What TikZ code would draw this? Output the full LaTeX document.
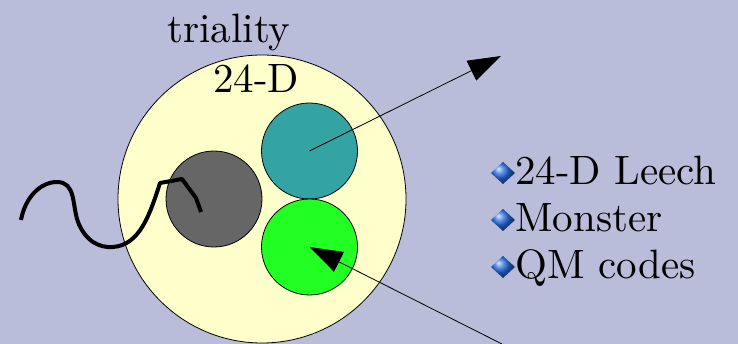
\documentclass[tikz,border=0pt]{standalone}
\usepackage{fontspec}
\setmainfont{lmroman10-regular}[Extension=.otf]
\usetikzlibrary{arrows.meta}
\definecolor{slidebg}{RGB}{185,189,217}
\definecolor{spherefill}{RGB}{255,255,204}
\definecolor{discteal}{RGB}{51,163,163}
\definecolor{discgray}{RGB}{102,102,102}
\definecolor{discgreen}{RGB}{34,255,34}
\definecolor{bulletblue}{RGB}{40,110,230}

\begin{document}
\begin{tikzpicture}[x=1pt, y={(0pt,-1pt)},
  disc/.style={circle, draw=black, line width=0.8pt, minimum size=96pt, inner sep=0pt},
  ptr/.style={-{Triangle[length=33pt, width=22pt]}, line width=0.8pt},
  bigtxt/.style={font=\fontsize{41}{47}\selectfont, inner sep=0pt},
  gem/.style={ball color=bulletblue}]
% background
\useasboundingbox (0,0) rectangle (738,344);
\fill[slidebg] (0,0) rectangle (738,344);

% big sphere and the three discs
\node[circle, draw=black, line width=0.8pt, fill=spherefill, minimum size=288pt, inner sep=0pt]
  (sphere) at (262,199) {};
\node[disc, fill=discteal]  (upperdisc) at (309.5,151) {};
\node[disc, fill=discgray]  (leftdisc)  at (214,199) {};
\node[disc, fill=discgreen] (lowerdisc) at (309.5,247) {};

% labels
\node[bigtxt, anchor=base] (trial) at (229,43) {triality};
\node[bigtxt, anchor=base] (dim) at (256,93) {24-D};

% arrows
\coordinate (outpt) at (501,56);
\coordinate (inpt)  at (502,344);
\draw[ptr] (upperdisc.center) -- (outpt);
\draw[ptr] (inpt) -- (lowerdisc.center);

% wave
\draw[line width=4pt, line join=round]
  (21,220) .. controls (25,198) and (40,182) .. (57,182)
  .. controls (76,182) and (72,205) .. (78,222)
  .. controls (86,242) and (100,248) .. (113,247)
  .. controls (140,245) and (150,214) .. (160,183)
  -- (182,179) -- (196,198) -- (201,212);

% list
\foreach \y/\n/\lbl in {185/1/24-D Leech, 232/2/Monster, 279/3/QM codes}{
  \shade[gem] (491,\y-12) -- (503,\y-23) -- (515,\y-12) -- (503,\y-1) -- cycle;
  \node[bigtxt, anchor=base west] (item\n) at (515,\y) {\lbl};
}
\end{tikzpicture}
\end{document}
